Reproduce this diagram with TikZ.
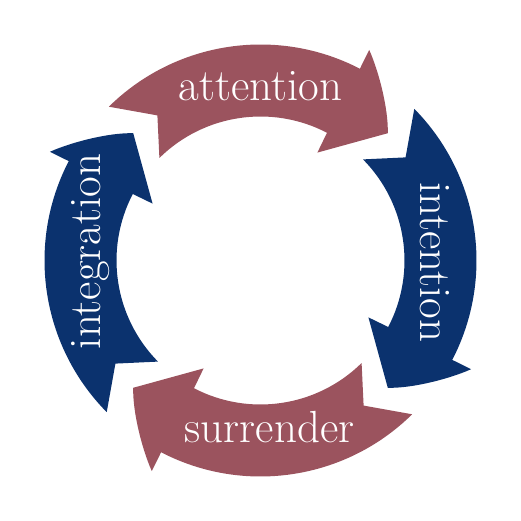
\documentclass[tikz,border=0pt]{standalone}
\definecolor{bordeaux}{HTML}{9B535E}
\definecolor{marine}{HTML}{0B326E}
\begin{document}
\begin{tikzpicture}[x=1pt,y=1pt]
		% Styles (MODIFIABLES)
		\tikzstyle{flecheA}=[fill=bordeaux]
		\tikzstyle{flecheB}=[fill=marine]
		\tikzstyle{etiquette}=[text=white,inner sep=0pt,anchor=base,font=\fontsize{45}{45}\selectfont]
		% Dimensions (MODIFIABLES)
		\def\RayonExt{216}
		\def\RayonInt{144}
		\def\RayonTexte{160}
		% Forme d'une fleche (NON MODIFIABLE)
		\def\Fleche{(134.6:\RayonExt) arc[start angle=134.6,end angle=62.6,radius=\RayonExt]
			-- (62.7:237) .. controls (118,190) and (128,152) .. (45:180)
			-- (62.2:122) -- (62.5:\RayonInt) arc[start angle=62.5,end angle=134.6,radius=\RayonInt]
			-- (125.4:178) -- cycle}
		\useasboundingbox (-260.5,-260.5) rectangle (260.5,260.5);
		% Fleches (MODIFIABLES : Styles)
		\fill[flecheA] \Fleche;
		\fill[flecheB,rotate=-90] \Fleche;
		\fill[flecheA,rotate=180] \Fleche;
		\fill[flecheB,rotate=90] \Fleche;
		% Noeuds
		\node[etiquette] (attention) at (0,\RayonTexte) {attention};
		\node[etiquette,rotate=-90] (intention) at (\RayonTexte,-2) {intention};
		\node[etiquette] (surrender) at (9,-182) {surrender};
		\node[etiquette,rotate=90] (integration) at (-\RayonTexte,9) {integration};
	\end{tikzpicture}
\end{document}
